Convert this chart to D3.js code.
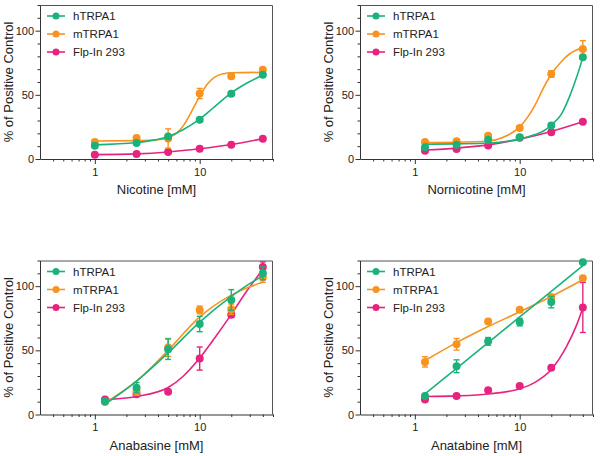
<!DOCTYPE html>
<html>
<head>
<meta charset="utf-8">
<script src="https://cdnjs.cloudflare.com/ajax/libs/d3/7.8.5/d3.min.js"></script>
<style>
  body { margin: 0; background: #fff; }
  svg { display: block; font-family: "Liberation Sans", Arial, sans-serif; }
  .axis path, .axis line { stroke: #333; }
  .axis text { font-size: 11px; fill: #222; }
</style>
</head>
<body>
<svg id="chart" width="600" height="456"></svg>
<script>
// concentrations (mM)
var concNic = [1, 2.5, 5, 10, 20, 40];
var conc = [1.25, 2.5, 5, 10, 20, 40];

// Nicotine
var nicH = [10.4, 12.5, 17.6, 30.6, 50.9, 65.7];
var nicHErr = [0.8, 0.8, 1, 1.2, 1.5, 1.5];
var nicM = [13.2, 16.4, 16, 51, 64.4, 69.6];
var nicMErr = [1, 1, 7.5, 4, 1.8, 1.5];
var nicF = [3.4, 3.9, 5.5, 8, 11.1, 15.8];
var nicFErr = [0.5, 0.5, 0.6, 0.6, 0.8, 0.8];
var nicHCurve = [[1, 11], [2.5, 12.8], [5, 17.5], [7, 23], [10, 31], [14, 41], [20, 51.5], [28, 59], [40, 65.5]];
var nicMCurve = [[1, 14], [2.5, 14.3], [4, 15], [5, 16.5], [6, 20], [7, 26], [8, 34], [9, 42], [10, 49], [12, 59], [14, 64], [17, 66.5], [20, 67.2], [40, 67.5]];
var nicFCurve = [[1, 3.4], [2.5, 4], [5, 5.5], [10, 8], [20, 11.3], [40, 15.8]];

// Nornicotine
var norH = [9.1, 11.2, 15, 16.9, 26.2, 79.2];
var norHErr = [0.8, 0.8, 1, 1, 1.5, 1.5];
var norM = [13.2, 13.8, 18.2, 24.2, 66.2, 85.7];
var norMErr = [0.8, 0.8, 1, 1.2, 2.5, 6.5];
var norF = [6.5, 7.8, 10.6, 16.5, 20.8, 29.1];
var norFErr = [0.6, 0.6, 0.8, 0.8, 1, 1];
var norHCurve = [[1.25, 11.5], [2.5, 11.8], [5, 12.5], [7, 13.5], [10, 15.5], [14, 19], [17, 22], [20, 26.5], [25, 35], [30, 49], [35, 64], [40, 79]];
var norMCurve = [[1.25, 12.8], [2.5, 13], [5, 14], [7, 17], [10, 25], [12, 33], [14, 42], [17, 56], [20, 66], [25, 76], [30, 82], [35, 85], [40, 87]];
var norFCurve = [[1.25, 7], [2.5, 8.5], [5, 11], [10, 15.5], [20, 21.5], [40, 29]];

// Anabasine
var anaH = [10.4, 20.9, 50.9, 70.5, 89.3, 110];
var anaHErr = [1.5, 4, 8, 6, 8, 5];
var anaM = [9.7, 18, 52.2, 81.5, 82, 107];
var anaMErr = [1.5, 3, 7, 3, 4, 4];
var anaF = [11.7, 15.7, 17.8, 43.6, 77.8, 114.9];
var anaFErr = [1, 1, 1, 9, 2, 4];
var anaHCurve = [[1.25, 8], [2.5, 26], [5, 48], [10, 72], [20, 92], [30, 102], [40, 108]];
var anaMCurve = [[1.25, 9], [2.5, 26], [5, 50], [10, 76], [20, 93], [30, 99.5], [40, 103]];
var anaFCurve = [[1.25, 11.5], [2.5, 14], [5, 21], [7, 30], [10, 44], [14, 60], [20, 78], [28, 96], [40, 113]];

// Anatabine
var atbH = [14.5, 37.6, 57, 72, 87.6, 118.7];
var atbHErr = [1, 5, 3, 3, 4.5, 1];
var atbM = [41, 54.7, 72.5, 81.6, 91.5, 106.2];
var atbMErr = [4, 4.5, 1, 1, 1, 1];
var atbF = [11.7, 14.5, 18.9, 22.3, 36.5, 83.4];
var atbFErr = [1, 0.8, 0.8, 0.8, 1, 19.5];
var atbHCurve = [[1.25, 16], [2.5, 36], [5, 56], [10, 76], [20, 96], [40, 116]];
var atbMCurve = [[1.25, 42], [2.5, 56], [5, 68.5], [10, 80], [20, 92], [40, 105]];
var atbFCurve = [[1.25, 14], [2.5, 14.5], [5, 16], [10, 20], [14, 25], [20, 35], [28, 53], [35, 70], [40, 83]];

var seriesNames = ['hTRPA1', 'mTRPA1', 'Flp-In 293'];
var seriesColors = ['#1bb27a', '#f7931e', '#e6247f'];
var xMajor = [1, 10];
var xMinor = [0.4, 0.5, 0.6, 0.7, 0.8, 0.9, 2, 3, 4, 5, 6, 7, 8, 9, 20, 30, 40, 50];
var yMajor = [0, 50, 100];
var yMinor = [10, 20, 30, 40, 60, 70, 80, 90, 110, 120];

var panels = [
  { label: 'Nicotine [mM]', x0: 40, y0: 5, conc: concNic,
    series: [[nicH, nicHErr, nicHCurve], [nicM, nicMErr, nicMCurve], [nicF, nicFErr, nicFCurve]] },
  { label: 'Nornicotine [mM]', x0: 360, y0: 5, conc: conc,
    series: [[norH, norHErr, norHCurve], [norM, norMErr, norMCurve], [norF, norFErr, norFCurve]] },
  { label: 'Anabasine [mM]', x0: 40, y0: 260.5, conc: conc,
    series: [[anaH, anaHErr, anaHCurve], [anaM, anaMErr, anaMCurve], [anaF, anaFErr, anaFCurve]] },
  { label: 'Anatabine [mM]', x0: 360, y0: 260.5, conc: conc,
    series: [[atbH, atbHErr, atbHCurve], [atbM, atbMErr, atbMCurve], [atbF, atbFErr, atbFCurve]] }
];

var W = 233, H = 154;
var svg = d3.select('#chart');

panels.forEach(function(p) {
  var g = svg.append('g').attr('transform', 'translate(' + p.x0 + ',' + p.y0 + ')');
  var x = d3.scaleLog().domain([0.3, 50]).range([0, W]);
  var y = d3.scaleLinear().domain([0, 120]).range([H, 0]);

  // frame (top and right)
  g.append('path')
    .attr('d', 'M0,0.5H' + (W - 0.5) + 'V' + H)
    .attr('fill', 'none').attr('stroke', '#555').attr('stroke-width', 1);

  // axes
  g.append('g').attr('class', 'axis').attr('transform', 'translate(0,' + H + ')')
    .call(d3.axisBottom(x).tickValues(xMajor).tickFormat(d3.format('d')).tickSize(5).tickSizeOuter(0).tickPadding(4));
  g.append('g').attr('class', 'axis').attr('transform', 'translate(0,' + H + ')')
    .call(d3.axisBottom(x).tickValues(xMinor).tickFormat('').tickSize(2.5).tickSizeOuter(0))
    .select('.domain').remove();
  g.append('g').attr('class', 'axis')
    .call(d3.axisLeft(y).tickValues(yMajor).tickSize(4.5).tickSizeOuter(0).tickPadding(1.5));
  g.append('g').attr('class', 'axis')
    .call(d3.axisLeft(y).tickValues(yMinor).tickFormat('').tickSize(2.5).tickSizeOuter(0))
    .select('.domain').remove();

  // axis titles
  g.append('text')
    .attr('x', W / 2).attr('y', H + 35)
    .attr('text-anchor', 'middle').attr('font-size', 13).attr('fill', '#222')
    .text(p.label);
  g.append('text')
    .attr('transform', 'translate(-27,' + (H / 2) + ') rotate(-90)')
    .attr('text-anchor', 'middle').attr('font-size', 13).attr('fill', '#222')
    .text('% of Positive Control');

  var line = d3.line()
    .x(function(d) { return x(d[0]); })
    .y(function(d) { return y(d[1]); })
    .curve(d3.curveMonotoneX);

  // draw Flp-In first, hTRPA1 last (on top)
  [2, 1, 0].forEach(function(si) {
    var s = p.series[si];
    var color = seriesColors[si];
    var sg = g.append('g');
    sg.append('path').datum(s[2]).attr('d', line)
      .attr('fill', 'none').attr('stroke', color).attr('stroke-width', 1.6);

    var pts = p.conc.map(function(c, i) { return { c: c, v: s[0][i], e: s[1][i] }; });
    var eb = sg.selectAll('.eb').data(pts).enter().append('g')
      .attr('stroke', color).attr('stroke-width', 1.4);
    eb.append('line')
      .attr('x1', function(d) { return x(d.c); }).attr('x2', function(d) { return x(d.c); })
      .attr('y1', function(d) { return y(d.v - d.e); }).attr('y2', function(d) { return y(d.v + d.e); });
    eb.append('line')
      .attr('x1', function(d) { return x(d.c) - 3; }).attr('x2', function(d) { return x(d.c) + 3; })
      .attr('y1', function(d) { return y(d.v + d.e); }).attr('y2', function(d) { return y(d.v + d.e); });
    eb.append('line')
      .attr('x1', function(d) { return x(d.c) - 3; }).attr('x2', function(d) { return x(d.c) + 3; })
      .attr('y1', function(d) { return y(d.v - d.e); }).attr('y2', function(d) { return y(d.v - d.e); });

    sg.selectAll('circle').data(pts).enter().append('circle')
      .attr('cx', function(d) { return x(d.c); })
      .attr('cy', function(d) { return y(d.v); })
      .attr('r', 4).attr('fill', color);
  });

  // legend
  var lg = g.append('g').attr('transform', 'translate(0,11)');
  seriesNames.forEach(function(name, i) {
    var row = lg.append('g').attr('transform', 'translate(0,' + (i * 18) + ')');
    row.append('line').attr('x1', 7).attr('x2', 25).attr('y1', 0).attr('y2', 0)
      .attr('stroke', seriesColors[i]).attr('stroke-width', 1.6);
    row.append('circle').attr('cx', 16).attr('cy', 0).attr('r', 3.5).attr('fill', seriesColors[i]);
    row.append('text').attr('x', 33).attr('y', 4).attr('font-size', 11.5).attr('fill', '#222').text(name);
  });
});
</script>
</body>
</html>
